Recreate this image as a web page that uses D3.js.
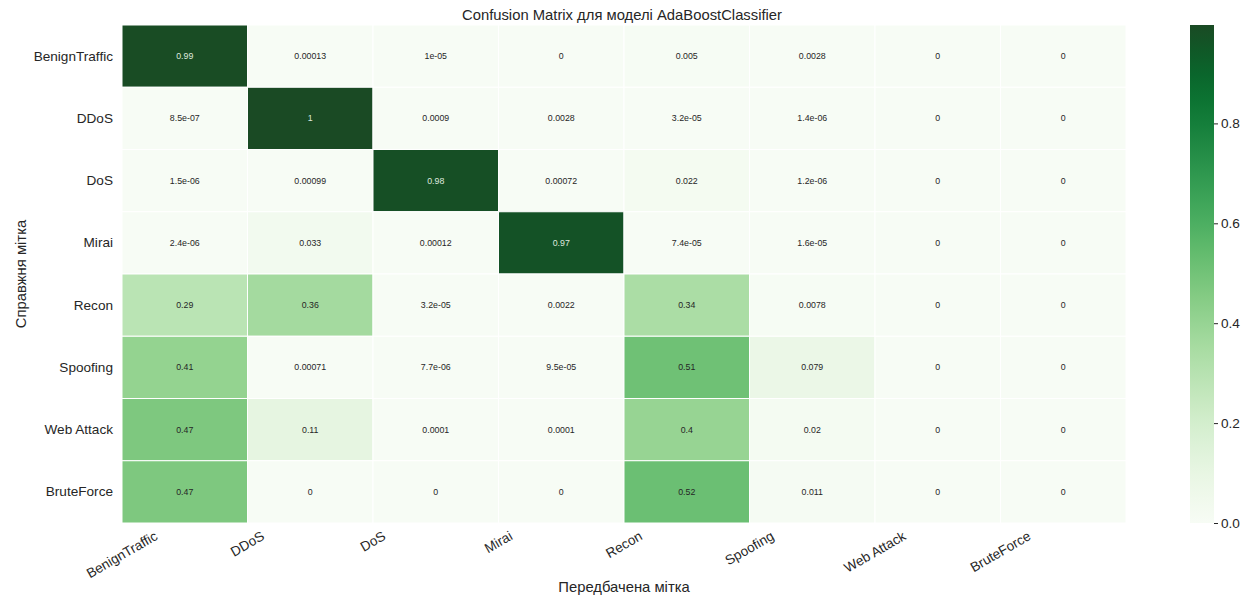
<!DOCTYPE html>
<html>
<head>
<meta charset="utf-8">
<script src="https://cdn.jsdelivr.net/npm/d3@7/dist/d3.min.js"></script>
<style>
  html, body { margin:0; padding:0; background:#fff; }
  svg { display:block; font-family:"Liberation Sans", Arial, sans-serif; }
</style>
</head>
<body>
<svg id="chart" width="1255" height="596"></svg>
<script>
/* ---------- data ------------------------------------------------ */
const classes = ["BenignTraffic","DDoS","DoS","Mirai","Recon","Spoofing","Web Attack","BruteForce"];

// rows = true label, columns = predicted label (normalised by row)
const rowBenign   = [0.99,    0.00013, 1e-05,   0,       0.005,   0.0028,  0, 0];
const rowDDoS     = [8.5e-07, 0.997,   0.0009,  0.0028,  3.2e-05, 1.4e-06, 0, 0];
const rowDoS      = [1.5e-06, 0.00099, 0.98,    0.00072, 0.022,   1.2e-06, 0, 0];
const rowMirai    = [2.4e-06, 0.033,   0.00012, 0.97,    7.4e-05, 1.6e-05, 0, 0];
const rowRecon    = [0.29,    0.36,    3.2e-05, 0.0022,  0.34,    0.0078,  0, 0];
const rowSpoofing = [0.41,    0.00071, 7.7e-06, 9.5e-05, 0.51,    0.079,   0, 0];
const rowWeb      = [0.47,    0.11,    0.0001,  0.0001,  0.4,     0.02,    0, 0];
const rowBrute    = [0.47,    0,       0,       0,       0.52,    0.011,   0, 0];
const matrix = [rowBenign,rowDDoS,rowDoS,rowMirai,rowRecon,rowSpoofing,rowWeb,rowBrute];

const colorTicks = [0, 0.2, 0.4, 0.6, 0.8];

const titleText = "Confusion Matrix для моделі AdaBoostClassifier";
const xTitle = "Передбачена мітка";
const yTitle = "Справжня мітка";

/* ---------- helpers --------------------------------------------- */
// python-ish "{:.2g}" formatting, like seaborn annot
const fmtG = v => {
  if (v === 0) return "0";
  const e = Math.floor(Math.log10(Math.abs(v)));
  if (e < -4) {
    let [m, ex] = v.toExponential(1).split("e");
    m = m.replace(/\.?0+$/,"");
    const n = Math.abs(+ex);
    return `${m}e${+ex < 0 ? "-" : "+"}${String(n).padStart(2,"0")}`;
  }
  let s = v.toPrecision(2);
  if (s.includes(".")) s = s.replace(/0+$/,"").replace(/\.$/,"");
  return s;
};

/* ---------- layout ---------------------------------------------- */
const svg = d3.select("#chart");
const grid = {left:122, right:1126, top:25, bottom:523};
const cbar = {x:1190, w:24};

const x = d3.scaleBand().domain(d3.range(classes.length)).range([grid.left, grid.right]);
const y = d3.scaleBand().domain(d3.range(classes.length)).range([grid.top, grid.bottom]);
const vmax = d3.max(matrix.flat());

// Greens ramp, dark end a touch softer like the reference render
const greens = d3.schemeGreens[9].slice();
greens[8] = "#1a4a24";
const colour = d3.scaleSequential(d3.interpolateRgbBasis(greens)).domain([0, vmax]);

const cells = matrix.flatMap((row, i) => row.map((v, j) => ({i, j, v})));

/* ---------- cells ----------------------------------------------- */
svg.append("g").selectAll("rect")
  .data(cells)
  .enter().append("rect")
    .attr("x", d => x(d.j))
    .attr("y", d => y(d.i))
    .attr("width", x.bandwidth())
    .attr("height", y.bandwidth())
    .attr("fill", d => colour(d.v))
    .attr("stroke", "#fff")
    .attr("stroke-width", 1);

svg.append("g").selectAll("text")
  .data(cells)
  .enter().append("text")
    .attr("x", d => x(d.j) + x.bandwidth()/2)
    .attr("y", d => y(d.i) + y.bandwidth()/2)
    .attr("text-anchor", "middle")
    .attr("dominant-baseline", "central")
    .attr("font-size", 8.8)
    .attr("fill", d => d.v > 0.6 ? "#dfe9df" : "#262626")
    .text(d => fmtG(d.v));

/* ---------- y tick labels --------------------------------------- */
svg.append("g").selectAll("text")
  .data(classes)
  .enter().append("text")
    .attr("x", grid.left - 9)
    .attr("y", (d, i) => y(i) + y.bandwidth()/2)
    .attr("text-anchor", "end")
    .attr("dominant-baseline", "central")
    .attr("font-size", 13.6)
    .attr("fill", "#262626")
    .text(d => d);

/* ---------- x tick labels (sit on the cell left edges) ---------- */
const ang = 30, rad = ang*Math.PI/180;
const xt = svg.append("g").selectAll("text")
  .data(classes)
  .enter().append("text")
    .attr("text-anchor", "middle")
    .attr("dominant-baseline", "central")
    .attr("font-size", 13.6)
    .attr("fill", "#262626")
    .text(d => d);
xt.each(function(d, i) {
  const w = this.getComputedTextLength(), h = 13.6;
  const H = w*Math.sin(rad) + h*Math.cos(rad);
  const cx = x(i), cy = grid.bottom + 6 + H/2;
  d3.select(this).attr("transform", `translate(${cx},${cy}) rotate(${-ang})`);
});

/* ---------- titles ---------------------------------------------- */
svg.append("text")
  .attr("x", (grid.left + grid.right)/2 - 2).attr("y", 15)
  .attr("text-anchor", "middle").attr("dominant-baseline", "central")
  .attr("font-size", 14.8).attr("fill", "#262626")
  .text(titleText);

svg.append("text")
  .attr("x", (grid.left + grid.right)/2).attr("y", 587)
  .attr("text-anchor", "middle").attr("dominant-baseline", "central")
  .attr("font-size", 14.8).attr("fill", "#262626")
  .text(xTitle);

svg.append("text")
  .attr("transform", `translate(21,${(grid.top + grid.bottom)/2}) rotate(-90)`)
  .attr("text-anchor", "middle").attr("dominant-baseline", "central")
  .attr("font-size", 14.8).attr("fill", "#262626")
  .text(yTitle);

/* ---------- colour bar ------------------------------------------ */
const cy = d3.scaleLinear().domain([0, vmax]).range([grid.bottom, grid.top]);
const gradId = "cbar-grad";
const grad = svg.append("defs").append("linearGradient")
  .attr("id", gradId).attr("x1", 0).attr("y1", 1).attr("x2", 0).attr("y2", 0);
grad.selectAll("stop")
  .data(d3.range(0, 1.0001, 0.05))
  .enter().append("stop")
    .attr("offset", t => t)
    .attr("stop-color", t => colour(t*vmax));

svg.append("rect")
  .attr("x", cbar.x).attr("y", grid.top)
  .attr("width", cbar.w).attr("height", grid.bottom - grid.top)
  .attr("fill", `url(#${gradId})`);

const axisG = svg.append("g")
  .attr("transform", `translate(${cbar.x + cbar.w},0)`)
  .call(d3.axisRight(cy).tickValues(colorTicks).tickFormat(d3.format(".1f")).tickSize(4).tickPadding(3));
axisG.select(".domain").remove();
axisG.selectAll("line").attr("stroke", "#262626");
axisG.selectAll("text").attr("font-size", 13.6).attr("fill", "#262626")
  .attr("font-family", "Liberation Sans, Arial, sans-serif");
</script>
</body>
</html>
